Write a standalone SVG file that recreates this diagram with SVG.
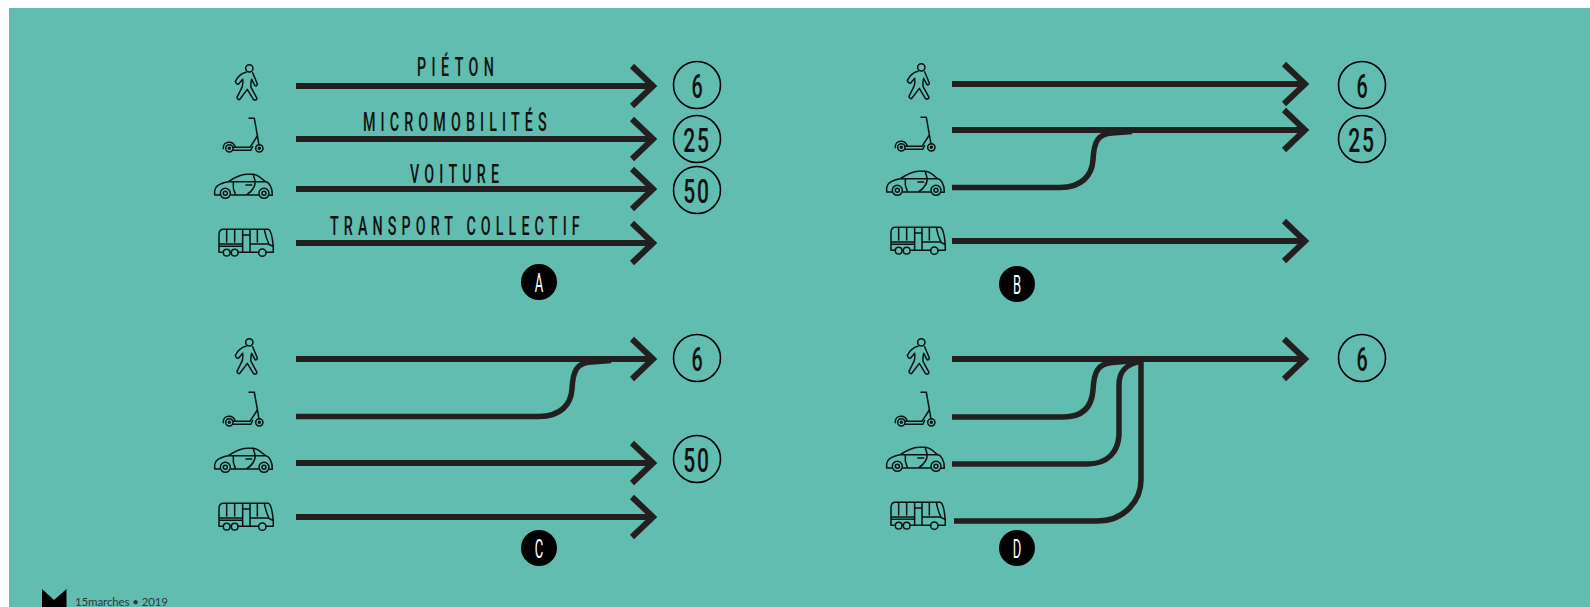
<svg xmlns="http://www.w3.org/2000/svg" width="1590" height="607" viewBox="0 0 1590 607">
<style>
.ln{fill:none;stroke:#231f20;stroke-width:6;marker-end:url(#head)}
.mg{fill:none;stroke:#231f20;stroke-width:5.5}
.ic *{fill:none;stroke:#0a1212;stroke-width:4.5;stroke-linejoin:round;stroke-linecap:round}
.num{fill:none;stroke:#000;stroke-width:1.6}
.t{font-family:Roboto,"Liberation Sans",sans-serif;font-weight:500;fill:#111}
.lab{font-size:26px}
.n{font-size:34px;text-anchor:middle;font-weight:500}
.b{font-size:26px;text-anchor:middle;fill:#fff;font-weight:400}
</style>
<defs>
<marker id="head" markerUnits="userSpaceOnUse" viewBox="-30 -30 40 60" markerWidth="40" markerHeight="60" refX="0" refY="0" orient="auto"><path d="M-21 -20L0 0L-21 20" fill="none" stroke="#231f20" stroke-width="6"/></marker>
<g id="i-ped" class="ic" transform="translate(200 40) scale(.3333)"><circle cx="148" cy="85" r="11"/><path d="M138 97C125 100 112 112 106 124C107 130 112 134 116 132L128 118C130 130 127 142 122 150L111 172C112 178 117 181 120 177L142 148L160 178C165 182 171 180 171 175L153 142C152 134 153 125 155 118L165 137C168 139 172 136 172 132L158 98"/></g>
<g id="i-sco" class="ic" transform="translate(200 40) scale(.3333)"><path d="M147 235H163L177 315"/><circle cx="88" cy="325" r="11"/><circle cx="88" cy="325" r="3"/><path d="M70 326C68 302 100 300 106 322"/><circle cx="178" cy="325" r="11"/><circle cx="178" cy="325" r="3"/><path d="M100 322H150L172 288M100 331H152L158 320"/></g>
<g id="i-car" class="ic" transform="translate(200 40) scale(.3333)"><path d="M60 465H44L44 452C46 440 52 432 85 425C105 412 120 404 140 403H160C175 404 185 415 195 424C208 428 217 440 217 466H207M92 465H176M85 425H195M100 428V445L106 463M160 405L166 425C165 445 155 455 140 464M138 435H155"/><circle cx="76" cy="460" r="15"/><circle cx="76" cy="460" r="6"/><circle cx="192" cy="460" r="15"/><circle cx="192" cy="460" r="6"/></g>
<g id="i-bus" class="ic" transform="translate(200 40) scale(.3333)"><path d="M69 637H57V582C58 572 62 568 70 568H205C212 570 220 595 220 637H198M91 637H94M115 637H176M57 612H128M57 619H128M80 568V606M104 568V606M128 568V637M128 585H150M150 568V637M150 612H205L220 620M172 568V606M193 568C196 585 200 598 206 610"/><circle cx="80" cy="638" r="10"/><circle cx="104" cy="638" r="10"/><circle cx="187" cy="638" r="11"/></g>
</defs>
<rect x="9" y="8" width="1581" height="599" fill="#60bdb0"/>

<g id="connectors">
<g id="conn-a"><path class="ln" d="M296 86H653"/><path class="ln" d="M296 139H653"/><path class="ln" d="M296 189H653"/><path class="ln" d="M296 243H653"/></g>
<g id="conn-b"><path class="ln" d="M952 84H1305"/><path class="ln" d="M952 130H1305"/><path class="ln" d="M952 241H1305"/><path class="mg" d="M952 187.500H1060C1082 187.500 1092 175 1093 160C1094 141 1098 134 1112 133L1132 131.500"/></g>
<g id="conn-c"><path class="ln" d="M296 359H653"/><path class="ln" d="M296 463H653"/><path class="ln" d="M296 517H653"/><path class="mg" d="M296 416.500H539C561 416.500 571 404 572 389C573 370 577 363 591 362L611 360.500"/></g>
<g id="conn-d"><path class="ln" d="M952 359H1305"/><path class="mg" d="M952 417H1063C1085 417 1092 405 1093 390C1094 371 1098 364 1112 362.500L1130 361"/><path class="mg" d="M952 464H1087C1108 464 1118 452 1119 435V385C1119 372 1125 364 1142 361"/><path class="mg" d="M954 521H1097C1125 521 1141 500 1141 480V359"/></g>
</g>

<g id="panel-a">
<use id="a-ped" href="#i-ped"/><use id="a-sco" href="#i-sco"/><use id="a-car" href="#i-car"/><use id="a-bus" href="#i-bus"/>
<text class="t lab" transform="translate(417 75.500) scale(.55 1)" textLength="140">PIÉTON</text>
<text class="t lab" transform="translate(363 130.500) scale(.55 1)" textLength="334">MICROMOBILITÉS</text>
<text class="t lab" transform="translate(410 182.500) scale(.55 1)" textLength="162">VOITURE</text>
<text class="t lab" transform="translate(330 234.500) scale(.55 1)" textLength="454">TRANSPORT COLLECTIF</text>
<g id="a-6"><circle class="num" cx="697" cy="85" r="23.500"/><text class="t n" transform="translate(697 97.500) scale(.58 1)">6</text></g>
<g id="a-25"><circle class="num" cx="697" cy="139" r="23.500"/><text class="t n" transform="translate(697 151.500) scale(.62 1)" letter-spacing="3">25</text></g>
<g id="a-50"><circle class="num" cx="697" cy="190" r="23.500"/><text class="t n" transform="translate(697 202.500) scale(.62 1)" letter-spacing="3">50</text></g>
<g id="a-badge"><circle cx="539" cy="282" r="18"/><text class="t b" transform="translate(539 291.500) scale(.5 1)">A</text></g>
</g>

<g id="panel-b">
<use id="b-ped" href="#i-ped" x="672" y="-1"/><use id="b-sco" href="#i-sco" x="672" y="-1"/><use id="b-car" href="#i-car" x="672" y="-3"/><use id="b-bus" href="#i-bus" x="672" y="-2"/>
<g id="b-6"><circle class="num" cx="1362" cy="85" r="23.500"/><text class="t n" transform="translate(1362 97.500) scale(.58 1)">6</text></g>
<g id="b-25"><circle class="num" cx="1362" cy="139" r="23.500"/><text class="t n" transform="translate(1362 151.500) scale(.62 1)" letter-spacing="3">25</text></g>
<g id="b-badge"><circle cx="1017" cy="284" r="18"/><text class="t b" transform="translate(1017 293.500) scale(.5 1)">B</text></g>
</g>

<g id="panel-c">
<use id="c-ped" href="#i-ped" y="274"/><use id="c-sco" href="#i-sco" y="274"/><use id="c-car" href="#i-car" y="274"/><use id="c-bus" href="#i-bus" y="274"/>
<g id="c-6"><circle class="num" cx="697" cy="358" r="23.500"/><text class="t n" transform="translate(697 370.500) scale(.58 1)">6</text></g>
<g id="c-50"><circle class="num" cx="697" cy="459" r="23.500"/><text class="t n" transform="translate(697 471.500) scale(.62 1)" letter-spacing="3">50</text></g>
<g id="c-badge"><circle cx="539" cy="548" r="18"/><text class="t b" transform="translate(539 557.500) scale(.5 1)">C</text></g>
</g>

<g id="panel-d">
<use id="d-ped" href="#i-ped" x="672" y="274"/><use id="d-sco" href="#i-sco" x="672" y="274"/><use id="d-car" href="#i-car" x="672" y="273"/><use id="d-bus" href="#i-bus" x="672" y="273"/>
<g id="d-6"><circle class="num" cx="1362" cy="358" r="23.500"/><text class="t n" transform="translate(1362 370.500) scale(.58 1)">6</text></g>
<g id="d-badge"><circle cx="1017" cy="548" r="18"/><text class="t b" transform="translate(1017 557.500) scale(.5 1)">D</text></g>
</g>

<g id="footer">
<path d="M42 589L54 600L66.500 589V607H42Z" fill="#000"/>
<text x="75" y="605.500" font-family="Lato,'Liberation Sans',sans-serif" font-size="11.500" fill="#2c3a38" textLength="93">15marches • 2019</text>
</g>
</svg>
